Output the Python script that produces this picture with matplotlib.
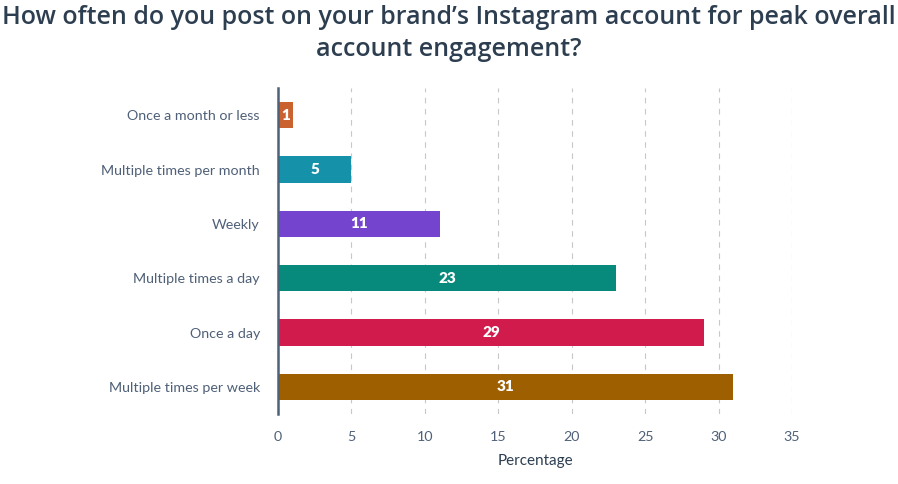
import matplotlib.pyplot as plt

categories = ["Once a month or less", "Multiple times per month", "Weekly",
              "Multiple times a day", "Once a day", "Multiple times per week"]
values = [1, 5, 11, 23, 29, 31]
colors = ["#C9622F", "#1591AA", "#7444CE", "#078A7B", "#D11B4D", "#9D5F00"]
xticks = [0, 5, 10, 15, 20, 25, 30, 35]

plt.rcParams['font.family'] = ['Lato', 'DejaVu Sans']

fig = plt.figure(figsize=(8.98, 4.84), dpi=100)
ax = fig.add_axes([278 / 898, 1 - 414 / 484, (792 - 278) / 898, (414 - 88) / 484])

ypos = list(range(len(categories)))
ax.barh(ypos, values, height=0.48, color=colors, zorder=3)
for y, v in zip(ypos, values):
    ax.text(v / 2, y, str(v), ha="center", va="center", color="white",
            fontsize=11, fontweight="heavy", zorder=4)

ax.set_yticks(ypos)
ax.set_yticklabels(categories)
ax.set_ylim(len(categories) - 0.5, -0.5)
ax.set_xlim(0, 35)
ax.set_xticks(xticks)
ax.tick_params(axis="both", length=0, labelsize=10.3, colors="#4f6078")
ax.tick_params(axis="y", pad=13)
ax.tick_params(axis="x", pad=12)
ax.xaxis.grid(True, linestyle=(0, (5, 5)), color="#c8c8c8", linewidth=0.8, zorder=0)
for s in ["top", "right", "bottom"]:
    ax.spines[s].set_visible(False)
ax.spines["left"].set_color("#4d6278")
ax.spines["left"].set_linewidth(1.8)
ax.spines["left"].set_zorder(5)
ax.set_xlabel("Percentage", fontsize=11, color="#2d3e50", labelpad=8)

title_kw = dict(ha="center", va="center", fontsize=18, color="#2d3e50",
                family="Open Sans", fontweight="semibold")
fig.text(0.5, 1 - 18 / 484, "How often do you post on your brand’s Instagram account for peak overall", **title_kw)
fig.text(0.5, 1 - 50 / 484, "account engagement?", **title_kw)

fig.savefig("out.png", dpi=100)
